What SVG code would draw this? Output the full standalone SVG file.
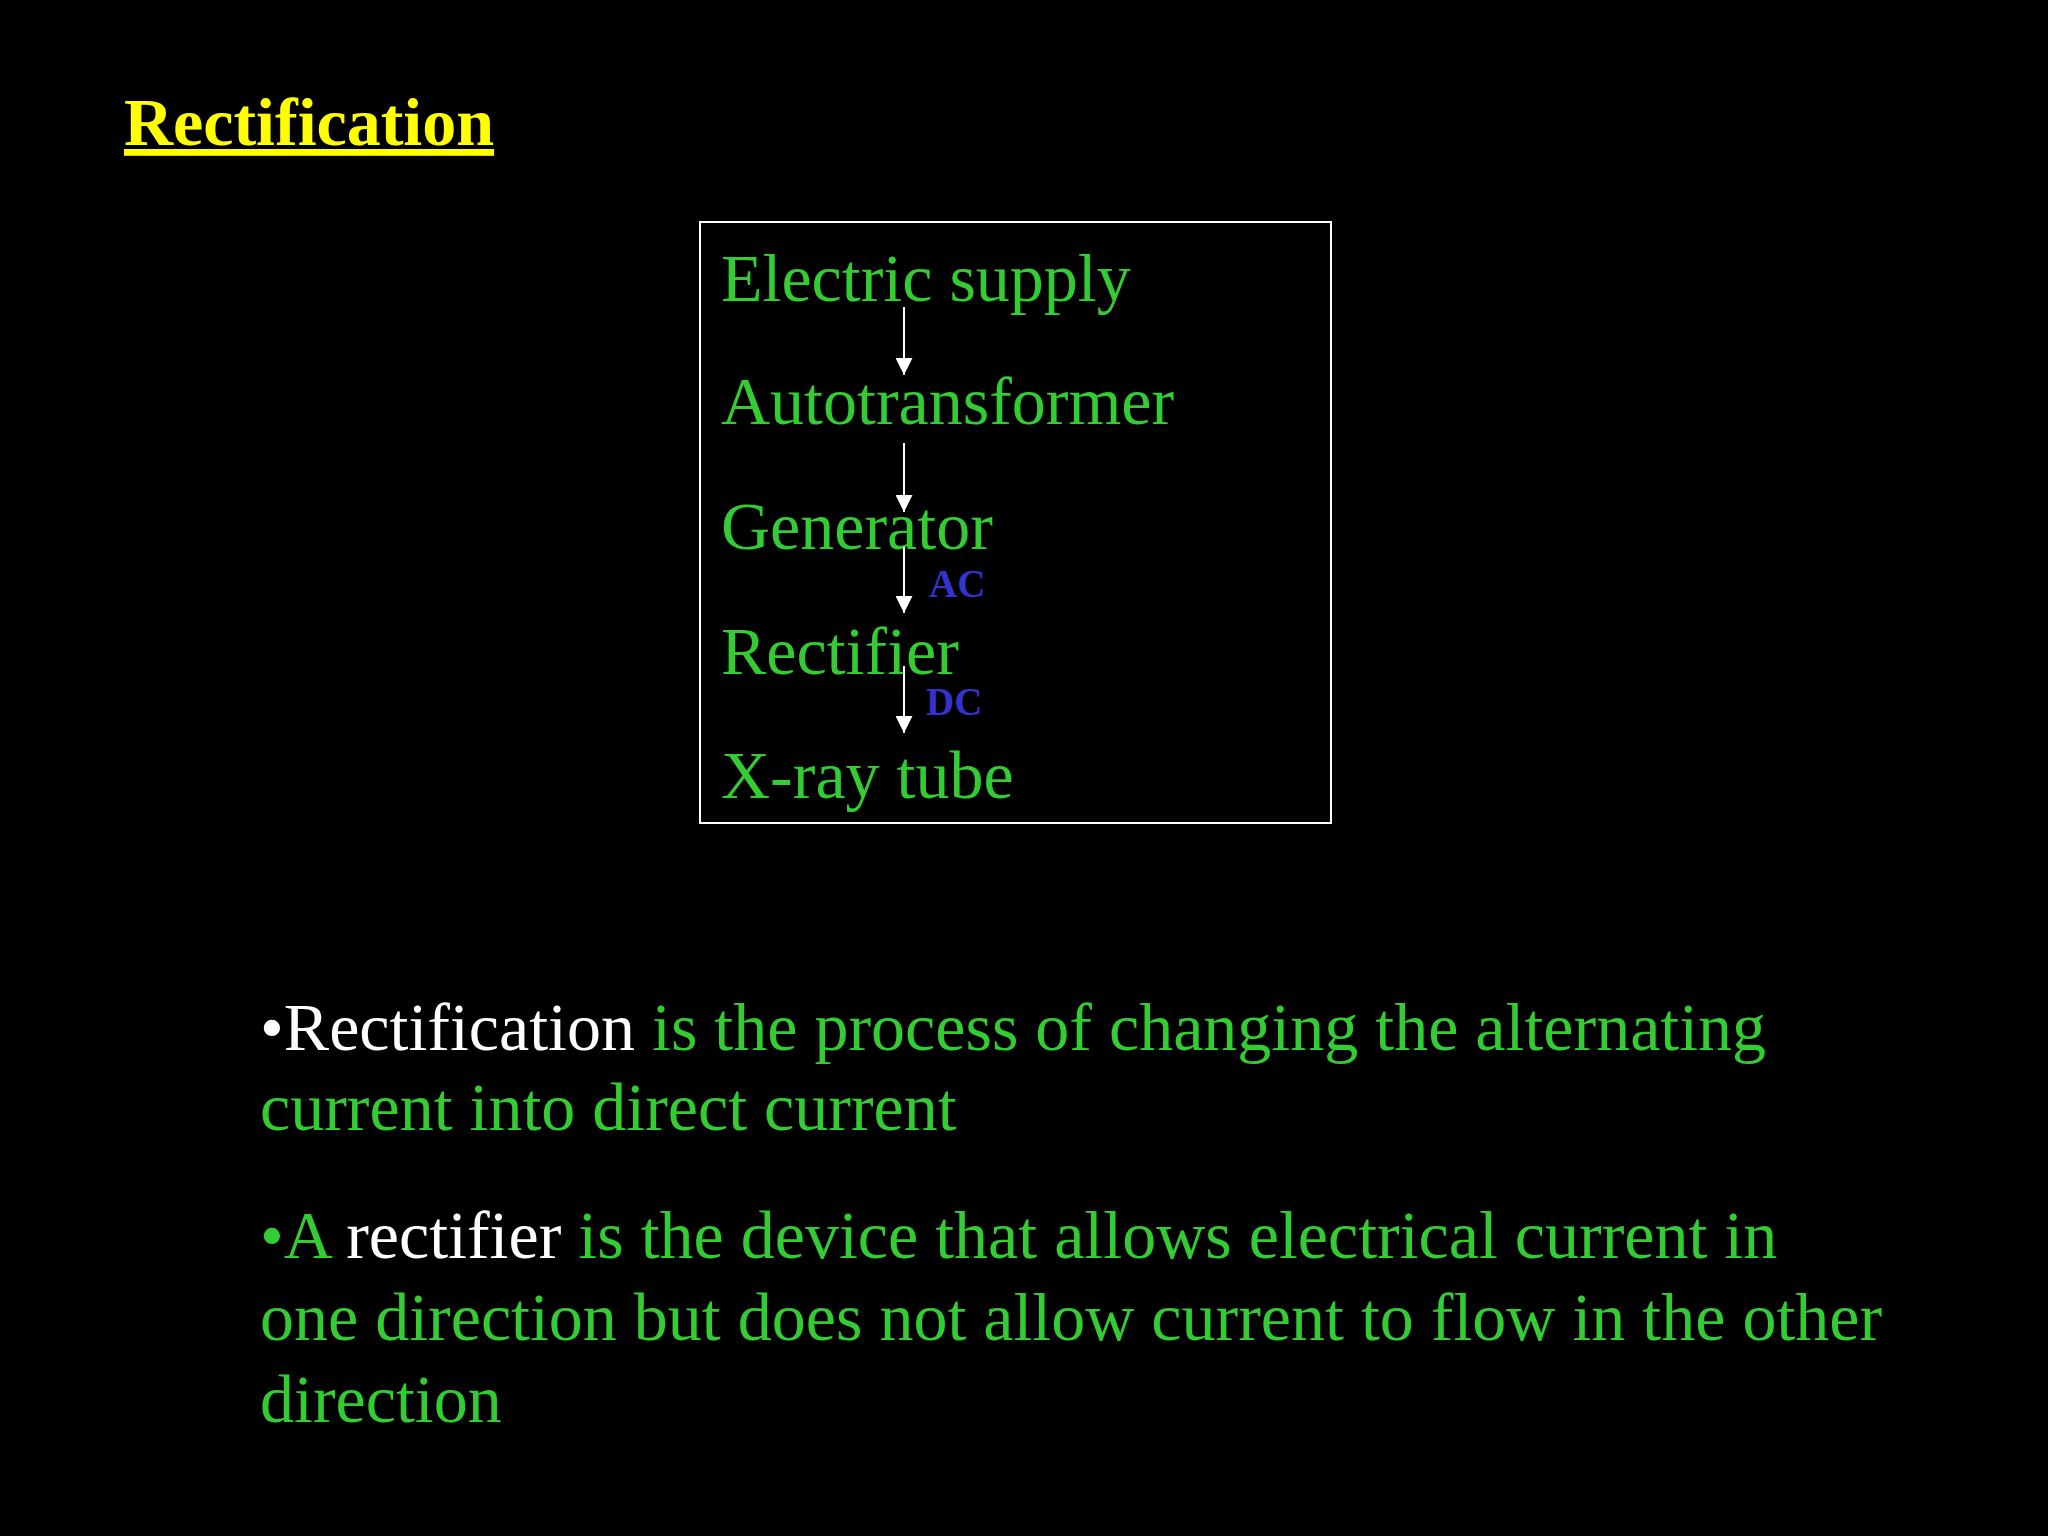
<svg xmlns="http://www.w3.org/2000/svg" width="2048" height="1536" viewBox="0 0 2048 1536">
  <style>
    .serif { font-family: "Liberation Serif", "Times New Roman", serif; }
    .title { font-size: 68px; font-weight: bold; fill: #FFFF00; text-decoration: underline; }
    .node { font-size: 68px; fill: #33CC33; }
    .lbl { font-size: 39px; font-weight: bold; fill: #3333CC; }
    .body { font-size: 68px; fill: #33CC33; }
    .w { fill: #FFFFFF; }
    .conn { stroke: #FFFFFF; stroke-width: 2; fill: none; }
  </style>
  <defs>
    <marker id="arrow" markerUnits="userSpaceOnUse" markerWidth="17" markerHeight="17" refX="17" refY="8.5" orient="auto">
      <path d="M0,0 L17,8.5 L0,17 z" fill="#FFFFFF"/>
    </marker>
  </defs>
  <rect x="0" y="0" width="2048" height="1536" fill="#000000"/>

  <text id="title" class="serif title" x="124" y="145">Rectification</text>

  <rect id="frame" x="700" y="222" width="631" height="601" fill="none" stroke="#FFFFFF" stroke-width="2"/>

  <g id="node-electric-supply"><text class="serif node" x="721" y="301">Electric supply</text></g>
  <g id="node-autotransformer"><text class="serif node" x="721" y="424">Autotransformer</text></g>
  <g id="node-generator"><text class="serif node" x="721" y="549">Generator</text></g>
  <g id="node-rectifier"><text class="serif node" x="721" y="674">Rectifier</text></g>
  <g id="node-xray-tube"><text class="serif node" x="721" y="798">X-ray tube</text></g>

  <g id="connectors">
    <line class="conn" x1="904" y1="307" x2="904" y2="375" marker-end="url(#arrow)"/>
    <line class="conn" x1="904" y1="443" x2="904" y2="512" marker-end="url(#arrow)"/>
    <line class="conn" x1="904" y1="547" x2="904" y2="613" marker-end="url(#arrow)"/>
    <line class="conn" x1="904" y1="666" x2="904" y2="733" marker-end="url(#arrow)"/>
    <text class="serif lbl" x="929" y="597">AC</text>
    <text class="serif lbl" x="926" y="715">DC</text>
  </g>

  <g id="bullets">
    <text class="serif body" x="260" y="1050"><tspan class="w">•Rectification</tspan> is the process of changing the alternating</text>
    <text class="serif body" x="260" y="1130">current into direct current</text>
    <text class="serif body" x="260" y="1258">•A <tspan class="w">rectifier</tspan> is the device that allows electrical current in</text>
    <text class="serif body" x="260" y="1340">one direction but does not allow current to flow in the other</text>
    <text class="serif body" x="260" y="1422">direction</text>
  </g>
</svg>
